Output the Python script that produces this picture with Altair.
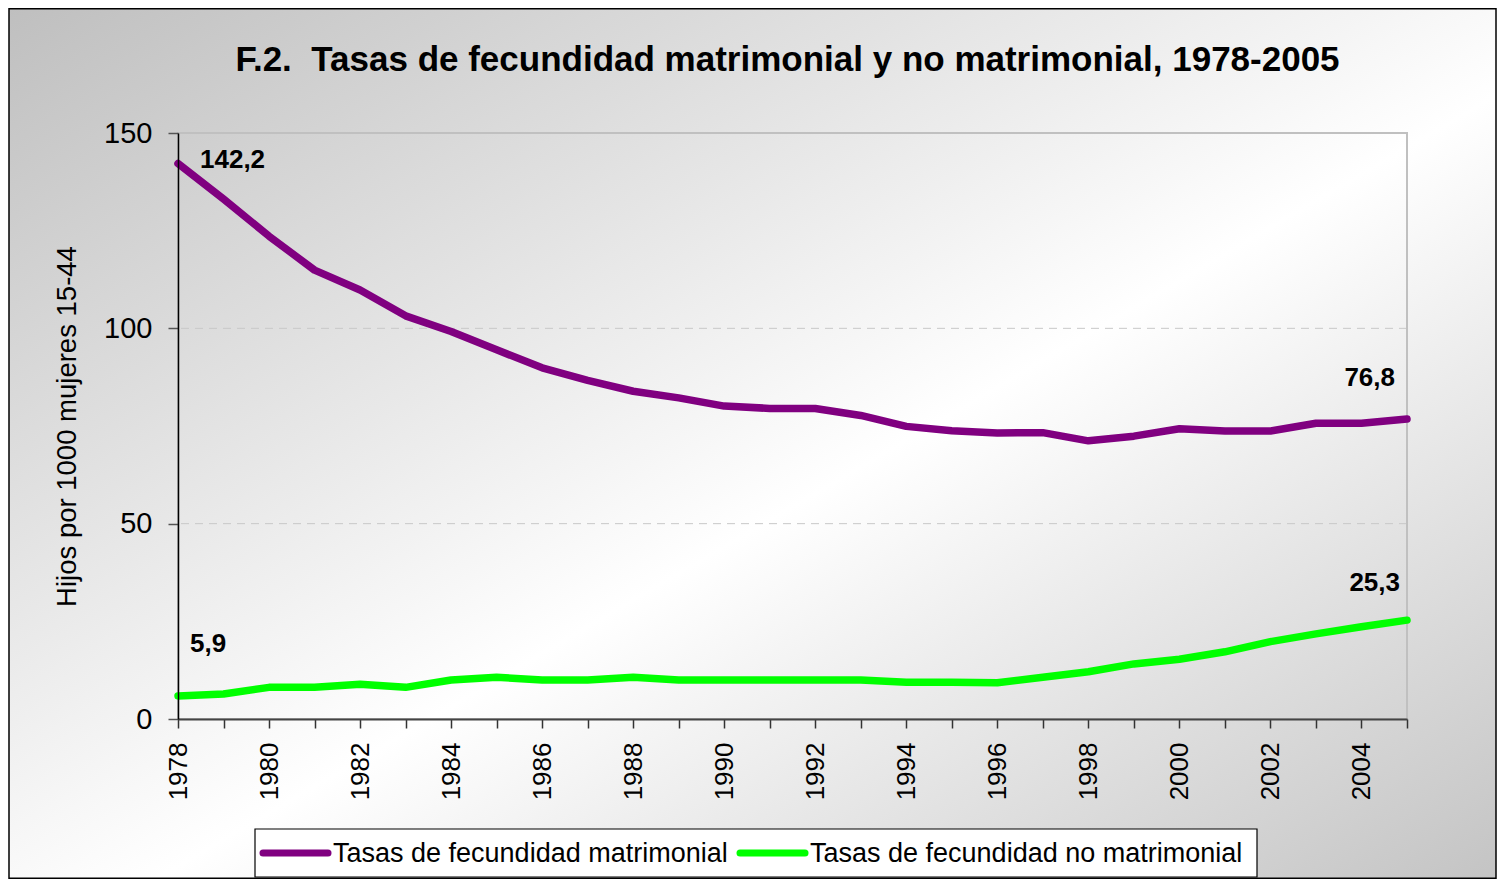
import altair as alt
import pandas as pd

# ---------------- data ----------------
years = list(range(1978, 2006))
matrimonial = [142.2, 133.1, 123.6, 114.9, 109.8, 103.2, 99.2, 94.5, 89.9, 86.7,
               83.9, 82.2, 80.1, 79.5, 79.5, 77.7, 74.9, 73.8, 73.2, 73.3,
               71.2, 72.4, 74.3, 73.7, 73.7, 75.7, 75.7, 76.8]
no_matrimonial = [5.9, 6.4, 8.1, 8.1, 8.9, 8.1, 10.0, 10.7, 10.0, 10.0,
                  10.7, 10.0, 10.0, 10.0, 10.0, 10.0, 9.4, 9.4, 9.3, 10.7,
                  12.1, 14.1, 15.3, 17.2, 19.8, 21.8, 23.6, 25.3]
series_names = ["Tasas de fecundidad matrimonial", "Tasas de fecundidad no matrimonial"]
series_colors = ["#800080", "#00ff00"]
y_ticks = [0, 50, 100, 150]
grid_values = [50, 100]

title_text = "F.2.\u00a0\u00a0Tasas de fecundidad matrimonial y no matrimonial, 1978-2005"
y_title = "Hijos por 1000 mujeres 15-44"

W, H = 1229, 586
PAD = {"left": 170, "top": 125, "right": 90, "bottom": 160}
FONT = "Liberation Sans"

df = pd.DataFrame({
    "year": years * 2,
    "value": matrimonial + no_matrimonial,
    "serie": [series_names[0]] * len(years) + [series_names[1]] * len(years),
})

xscale = alt.Scale(domain=[years[0], years[-1]], nice=False, zero=False)
yscale = alt.Scale(domain=[y_ticks[0], y_ticks[-1]], nice=False)
color_scale = alt.Scale(domain=series_names, range=series_colors)

xaxis = alt.Axis(
    values=years, format="d",
    labelExpr="datum.value % 2 == 0 ? datum.label : ''",
    labelAngle=270, labelFontSize=26, labelFont=FONT, labelColor="black",
    labelPadding=14, labelOverlap=False, labelFlush=False,
    tickSize=9, tickColor="#333333", tickWidth=1.5,
    domainColor="#444444", domainWidth=2,
    grid=False, title=None, zindex=1,
)
yaxis = alt.Axis(
    values=y_ticks, labelFontSize=29, labelFont=FONT, labelColor="black",
    labelPadding=16, tickSize=10, tickColor="#555555", tickWidth=1.5,
    domainColor="black", domainWidth=1.5, grid=False, zindex=1,
    title=y_title, titleFontSize=27.5, titleFont=FONT, titleFontWeight="normal",
    titleColor="black", titlePadding=22,
)

# ---------------- background (whole chart gradient) ----------------
one = alt.Data(values=[{"a": 1}])
bg = alt.Chart(one).mark_rect(
    fill=alt.LinearGradient(
        gradient="linear",
        stops=[
            alt.GradientStop(color="#bfbfbf", offset=0),
            alt.GradientStop(color="#ffffff", offset=0.55),
            alt.GradientStop(color="#c4c4c4", offset=1),
        ],
        x1=0, y1=0, x2=1, y2=1,
    ),
    stroke="black",
    strokeWidth=1.5,
).encode(
    x=alt.value(-PAD["left"] + 1), x2=alt.value(W + PAD["right"] - 1),
    y=alt.value(-PAD["top"] + 0.75), y2=alt.value(H + PAD["bottom"] - 0.75),
)

frame = alt.Chart(one).mark_rect(
    filled=False, stroke="#c0c0c0", strokeWidth=2
).encode(x=alt.value(0), x2=alt.value(W), y=alt.value(0), y2=alt.value(H))

grid = alt.Chart(pd.DataFrame({"value": grid_values})).mark_rule(
    color="#c8c8c8", strokeWidth=1, strokeDash=[8, 6]
).encode(y=alt.Y("value:Q", scale=yscale, axis=yaxis))

# ---------------- title ----------------
title = alt.Chart(one).mark_text(
    text=title_text, font=FONT, fontSize=35, fontWeight="bold", color="black",
    align="center", baseline="alphabetic",
).encode(x=alt.value(W / 2 - 5), y=alt.value(-62))

# ---------------- lines ----------------
lines = alt.Chart(df).mark_line(strokeWidth=7.5, strokeCap="round", strokeJoin="round").encode(
    x=alt.X("year:Q", scale=xscale, axis=xaxis),
    y=alt.Y("value:Q", scale=yscale, axis=yaxis),
    color=alt.Color("serie:N", scale=color_scale, legend=None),
)

# ---------------- end-point labels ----------------
def fmt(v):
    return f"{v:.1f}".replace(".", ",")

def end_label(year, value, dx, dy, align):
    d = pd.DataFrame({"year": [year], "value": [value], "t": [fmt(value)]})
    return alt.Chart(d).mark_text(
        font=FONT, fontSize=26, fontWeight="bold", color="black",
        align=align, baseline="middle", dx=dx, dy=dy,
    ).encode(
        x=alt.X("year:Q", scale=xscale, axis=xaxis),
        y=alt.Y("value:Q", scale=yscale, axis=yaxis),
        text="t:N",
    )

labels = [
    end_label(years[0], matrimonial[0], 22, -3, "left"),
    end_label(years[-1], matrimonial[-1], -12, -41, "right"),
    end_label(years[0], no_matrimonial[0], 12, -52, "left"),
    end_label(years[-1], no_matrimonial[-1], -7, -37, "right"),
]

# ---------------- legend (boxed, below the plot) ----------------
LEG_X, LEG_Y, LEG_W, LEG_H = 77, 696, 1002, 48
SW_X = [85, 562]      # swatch left edges (plot-relative px)
SW_LEN = 65
leg_df = pd.DataFrame({
    "serie": series_names,
    "sx": SW_X,
    "sx2": [s + SW_LEN for s in SW_X],
    "tx": [s + SW_LEN + 5 for s in SW_X],
})
leg_box = alt.Chart(one).mark_rect(fill="white", stroke="black", strokeWidth=1.2).encode(
    x=alt.value(LEG_X), x2=alt.value(LEG_X + LEG_W),
    y=alt.value(LEG_Y), y2=alt.value(LEG_Y + LEG_H),
)
leg_sw = alt.Chart(leg_df).mark_rule(strokeWidth=7, strokeCap="round").encode(
    x=alt.X("sx:Q", scale=None), x2="sx2:Q",
    y=alt.value(LEG_Y + LEG_H / 2),
    color=alt.Color("serie:N", scale=color_scale, legend=None),
)
leg_tx = alt.Chart(leg_df).mark_text(
    font=FONT, fontSize=27, color="black", align="left", baseline="middle"
).encode(
    x=alt.X("tx:Q", scale=None),
    y=alt.value(LEG_Y + LEG_H / 2 + 1),
    text="serie:N",
)

chart = alt.layer(bg, grid, frame, lines, *labels, title, leg_box, leg_sw, leg_tx).properties(
    width=W, height=H,
    padding=PAD,
    autosize=alt.AutoSizeParams(type="none"),
).configure_view(stroke=None)

chart.save("out.html", embed_options={"renderer": "svg", "actions": False})
